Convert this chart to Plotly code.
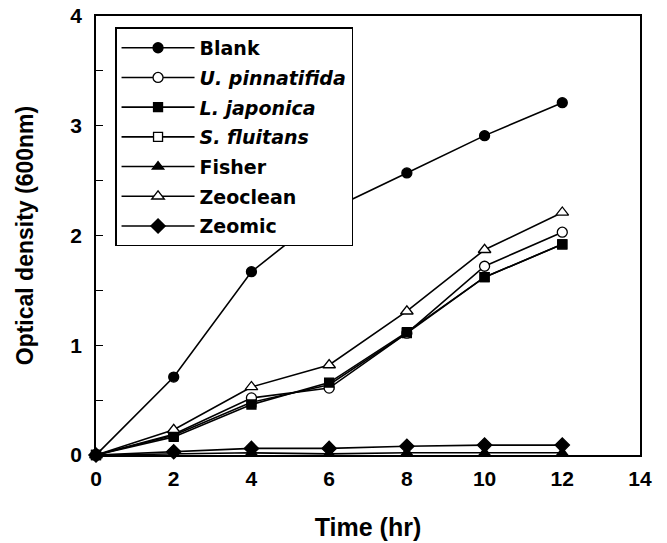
import plotly.graph_objects as go

time_hr = [0, 2, 4, 6, 8, 10, 12]

blank = [0, 0.71, 1.67, 2.23, 2.57, 2.91, 3.21]
u_pinnatifida = [0, 0.19, 0.52, 0.61, 1.11, 1.72, 2.03]
l_japonica = [0, 0.165, 0.46, 0.66, 1.12, 1.62, 1.92]
s_fluitans = [0, 0.18, 0.48, 0.64, 1.11, 1.62, 1.92]
fisher = [0, 0.01, 0.02, 0.01, 0.02, 0.02, 0.02]
zeoclean = [0, 0.23, 0.62, 0.82, 1.31, 1.87, 2.21]
zeomic = [0, 0.03, 0.06, 0.06, 0.08, 0.09, 0.09]

series = [
    ("Blank", blank, "circle", "black", 1, 10),
    ("<i>U. pinnatifida</i>", u_pinnatifida, "circle", "white", 2, 10),
    ("<i>L. japonica</i>", l_japonica, "square", "black", 3, 9),
    ("<i>S. fluitans</i>", s_fluitans, "square", "white", 4, 9),
    ("Fisher", fisher, "triangle-up", "black", 5, 10),
    ("Zeoclean", zeoclean, "triangle-up", "white", 6, 11),
    ("Zeomic", zeomic, "diamond", "black", 7, 11),
]

# draw order: S. fluitans underneath L. japonica
draw_order = [0, 3, 1, 2, 4, 5, 6]

fig = go.Figure()
for i in draw_order:
    name, ys, sym, fill, rank, sz = series[i]
    fig.add_trace(go.Scatter(
        x=time_hr, y=ys, name=name, mode="lines+markers",
        line=dict(color="black", width=1.6),
        marker=dict(symbol=sym, color=fill, size=sz,
                    line=dict(color="black", width=1.3)),
        legendrank=rank, legendgroup=f"g{rank}",
        cliponaxis=False,
    ))

fig.update_layout(
    width=667, height=543,
    margin=dict(l=96, r=27, t=16, b=88),
    paper_bgcolor="white", plot_bgcolor="white",
    font=dict(family="Liberation Sans, Arial", color="black"),
    showlegend=True,
    legend=dict(
        x=0.035, y=0.974, xanchor="left", yanchor="top",
        bgcolor="white", bordercolor="black", borderwidth=1.5,
        font=dict(family="DejaVu Sans", size=19, weight="bold", color="black"),
        tracegroupgap=2, itemwidth=73,
    ),
    xaxis=dict(
        range=[0, 14], dtick=2, tick0=0, automargin=False,
        showline=True, linecolor="black", linewidth=1.6, mirror=True,
        showgrid=False, zeroline=False, ticks="",
        tickfont=dict(size=21, weight="bold"),
        ticklabelstandoff=4, ticklabeloverflow="allow",
        title=dict(text="Time (hr)", font=dict(size=25, weight="bold"), standoff=29),
    ),
    yaxis=dict(
        range=[0, 4], dtick=1, tick0=0, automargin=False,
        showline=True, linecolor="black", linewidth=1.6, mirror=True,
        showgrid=False, zeroline=False, ticks="inside", ticklen=7,
        tickcolor="black", tickwidth=1.2,
        minor=dict(dtick=0.5, ticks="inside", ticklen=7, tickcolor="black", tickwidth=1.2),
        tickfont=dict(size=21, weight="bold"),
        ticklabelstandoff=8, ticklabeloverflow="allow",
        title=dict(text="Optical density (600nm)", font=dict(size=23, weight="bold"), standoff=30),
    ),
)

fig.write_html(
    "out.html",
    config={"displayModeBar": False},
    post_script="document.body.style.margin='0';document.body.style.overflow='hidden';",
)
